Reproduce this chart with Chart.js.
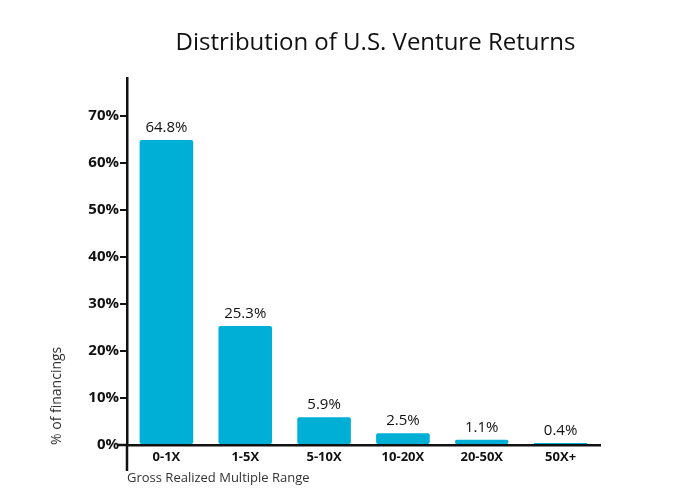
<!DOCTYPE html>
<html>
<head>
<meta charset="utf-8">
<script src="https://cdn.jsdelivr.net/npm/chart.js@4"></script>
<style>
  html, body { margin: 0; padding: 0; background: #fff; }
  #wrap { width: 680px; height: 498px; }
</style>
</head>
<body>
<div id="wrap"><canvas id="myChart"></canvas></div>
<script>
// data
const categories = ['0-1X', '1-5X', '5-10X', '10-20X', '20-50X', '50X+'];
const shareOfFinancings = [64.8, 25.3, 5.9, 2.5, 1.1, 0.4];
const valueLabels = ['64.8%', '25.3%', '5.9%', '2.5%', '1.1%', '0.4%'];
const yTickValues = [0, 10, 20, 30, 40, 50, 60, 70];
const chartTitle = 'Distribution of U.S. Venture Returns';

const ink = '#111';
const blue = '#00afd6';
const hand = '"Open Sans", "DejaVu Sans", sans-serif';

// title, numbers above each bar + the little overhang of the axes
const sketchBits = {
  id: 'sketchBits',
  afterDatasetsDraw(chart) {
    const ctx = chart.ctx;
    const meta = chart.getDatasetMeta(0);
    const a = chart.chartArea;
    ctx.save();
    ctx.fillStyle = ink;

    ctx.font = '24px ' + hand;
    ctx.textAlign = 'center';
    ctx.textBaseline = 'middle';
    ctx.fillText(chartTitle, (a.left + a.right) / 2 + 12, 43);

    ctx.font = '15px ' + hand;
    ctx.textBaseline = 'bottom';
    meta.data.forEach((bar, i) => {
      ctx.fillText(valueLabels[i], bar.x, bar.y - 5);
    });

    ctx.strokeStyle = ink;
    ctx.lineWidth = 2.5;
    ctx.beginPath();
    ctx.moveTo(a.left, a.bottom);
    ctx.lineTo(a.left, a.bottom + 26);
    ctx.moveTo(a.left, a.bottom);
    ctx.lineTo(a.left - 10, a.bottom);
    ctx.stroke();
    ctx.restore();
  }
};

new Chart(document.getElementById('myChart').getContext('2d'), {
  type: 'bar',
  data: {
    labels: categories,
    datasets: [{
      data: shareOfFinancings,
      backgroundColor: blue,
      borderRadius: 2,
      borderSkipped: false,
      categoryPercentage: 0.68,
      barPercentage: 1
    }]
  },
  options: {
    responsive: true,
    maintainAspectRatio: false,
    animation: false,
    layout: { padding: { left: 49, right: 80, top: 78, bottom: 8 } },
    plugins: {
      legend: { display: false },
      tooltip: { enabled: false },
      title: { display: false }
    },
    scales: {
      x: {
        grid: { display: false },
        border: { color: ink, width: 2.5 },
        ticks: {
          color: ink,
          padding: -4,
          font: { family: hand, size: 13, weight: 'bold' }
        },
        title: {
          display: true,
          align: 'start',
          text: 'Gross Realized Multiple Range',
          color: '#333',
          font: { family: hand, size: 13 },
          padding: { top: 0, bottom: 4 }
        },
        afterFit(s) { s.height = 45; }
      },
      y: {
        min: 0,
        max: 78,
        afterBuildTicks(s) { s.ticks = yTickValues.map(v => ({ value: v })); },
        grid: {
          drawOnChartArea: false,
          drawTicks: true,
          tickLength: 7,
          color: ink,
          lineWidth: 2
        },
        border: { color: ink, width: 2.5 },
        ticks: {
          color: ink,
          padding: 1,
          font: { family: hand, size: 15, weight: 'bold' },
          callback: v => v + '%'
        },
        title: {
          display: true,
          align: 'start',
          text: '% of financings',
          color: '#333',
          font: { family: hand, size: 14 },
          padding: { top: 0, bottom: 0 }
        },
        afterFit(s) { s.width = 78; }
      }
    }
  },
  plugins: [sketchBits]
});
</script>
</body>
</html>
